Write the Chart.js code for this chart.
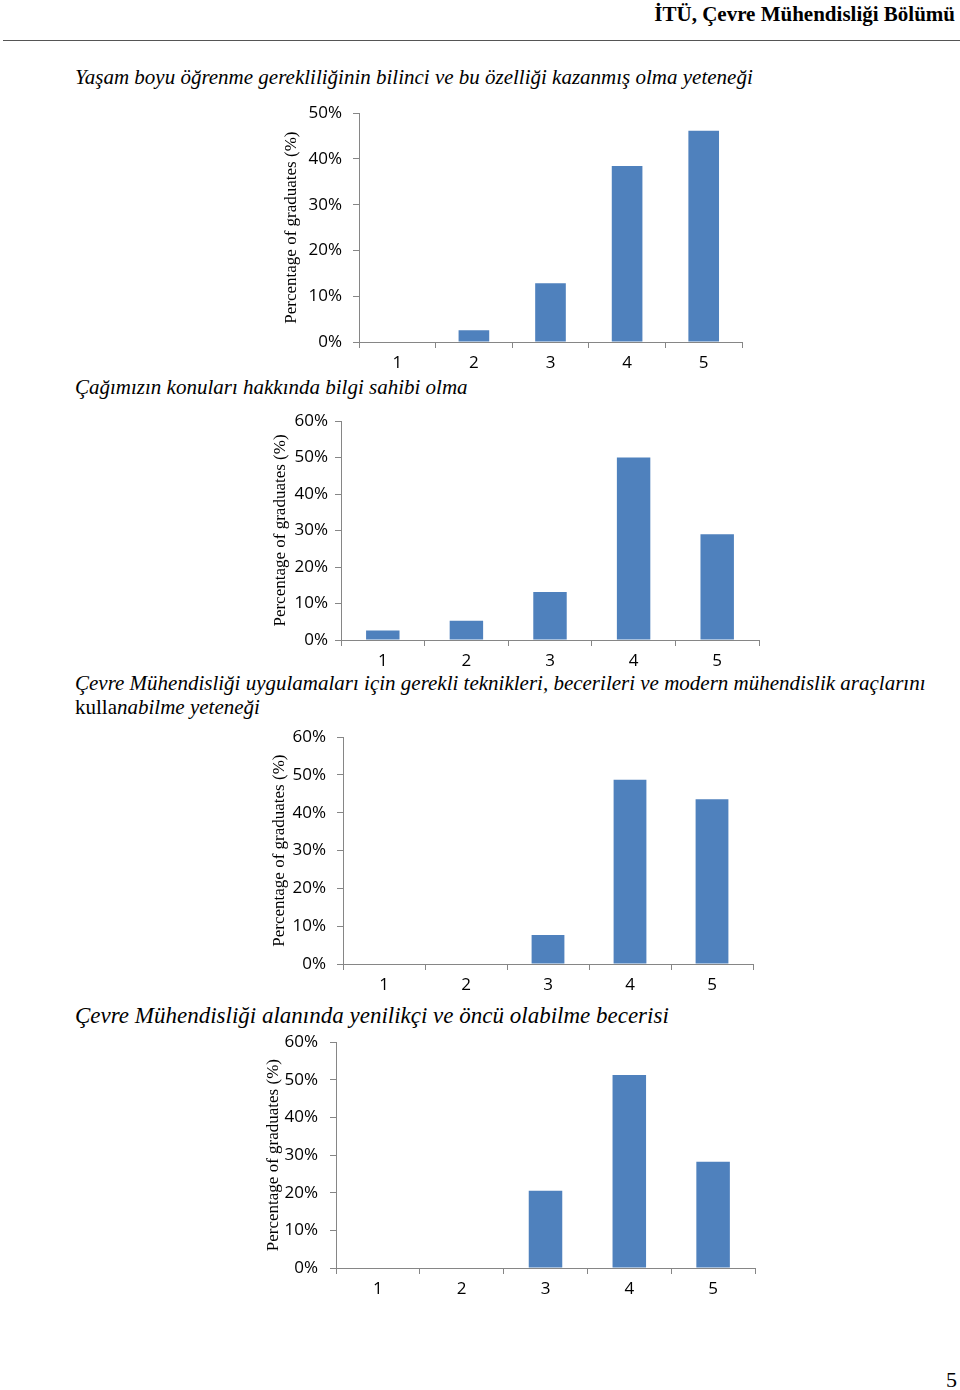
<!DOCTYPE html>
<html>
<head>
<meta charset="utf-8">
<script src="https://cdn.jsdelivr.net/npm/chart.js@4.4.1/dist/chart.umd.min.js"></script>
<style>
  html, body { margin: 0; padding: 0; background: #fff; }
  body { position: relative; width: 960px; height: 1390px; overflow: hidden; }
  .txt { position: absolute; font-family: "Liberation Serif", "Times New Roman", serif; color: #000; white-space: nowrap; line-height: 1; }
  .title { font-size: 21px; font-style: italic; }
  .up { font-style: normal; }
  #header { right: 5px; top: 4px; font-size: 21px; font-weight: bold; }
  #rule { position: absolute; left: 3px; top: 40px; width: 957px; height: 1px; background: #555; }
  #pageno { right: 3px; top: 1369px; font-size: 22px; }
  canvas { position: absolute; }
</style>
</head>
<body>
<div class="txt" id="header">İTÜ, Çevre Mühendisliği Bölümü</div>
<div id="rule"></div>

<div class="txt title" style="left:75px; top:67px;">Yaşam boyu öğrenme gerekliliğinin bilinci ve bu özelliği kazanmış olma yeteneği</div>
<div class="txt title" style="left:75px; top:377px;">Çağımızın konuları hakkında bilgi sahibi olma</div>
<div class="txt title" style="left:75px; top:673px;">Çevre Mühendisliği uygulamaları için gerekli teknikleri, becerileri ve modern mühendislik araçlarını</div>
<div class="txt title" style="left:75px; top:697px;"><span class="up">kulla</span>nabilme yeteneği</div>
<div class="txt title" style="left:75px; top:1004px; font-size:23px;">Çevre Mühendisliği alanında yenilikçi ve öncü olabilme becerisi</div>

<canvas id="chart1"></canvas>
<canvas id="chart2"></canvas>
<canvas id="chart3"></canvas>
<canvas id="chart4"></canvas>

<div class="txt" id="pageno">5</div>

<script>
// answers on the 1-5 scale
const categories = ['1', '2', '3', '4', '5'];

// percentage of graduates per answer
const lifelongLearning = [0, 2.56, 12.82, 38.46, 46.15];
const currentIssues = [2.63, 5.26, 13.16, 50.0, 28.95];
const engineeringTools = [0, 0, 7.69, 48.72, 43.59];
const innovation = [0, 0, 20.51, 51.28, 28.21];

const yMax = [50, 60, 60, 60];
const yStep = 10;

const axisTitle = 'Percentage of graduates (%)';
const barColor = '#4F81BD';
const axisColor = '#868686';

// where each plot sits on the page
const boxes = [
    { id: 'chart1', data: lifelongLearning, max: yMax[0], axisX: 359, right: 742, top: 112, bottom: 342, titleX: 291, tickPad: 11 },
    { id: 'chart2', data: currentIssues, max: yMax[1], axisX: 341, right: 759, top: 421, bottom: 640, titleX: 280, tickPad: 7 },
    { id: 'chart3', data: engineeringTools, max: yMax[2], axisX: 343, right: 753, top: 736, bottom: 964, titleX: 279, tickPad: 11 },
    { id: 'chart4', data: innovation, max: yMax[3], axisX: 336, right: 755, top: 1040, bottom: 1268, titleX: 273, tickPad: 12 }
];

const padTop = 20;
const padRight = 12;
const xAxisHeight = 36;
const titleSize = 17;
const tickFont = { family: 'Open Sans', size: 17 };

function makeChart(box) {
    const canvas = document.getElementById(box.id);
    const left = Math.round(box.titleX - titleSize * 0.6);
    const yWidth = box.axisX - left;
    const width = box.right - left + padRight;
    const height = padTop + (box.bottom - box.top) + xAxisHeight;

    canvas.width = width;
    canvas.height = height;
    canvas.style.left = left + 'px';
    canvas.style.top = (box.top - padTop) + 'px';

    return new Chart(canvas, {
        type: 'bar',
        data: {
            labels: categories,
            datasets: [{
                data: box.data,
                backgroundColor: barColor,
                borderWidth: 0,
                categoryPercentage: 1,
                barPercentage: 0.4
            }]
        },
        options: {
            responsive: false,
            animation: false,
            events: [],
            layout: { padding: { top: padTop, right: padRight, left: 0, bottom: 0 } },
            plugins: {
                legend: { display: false },
                tooltip: { enabled: false },
                title: { display: false }
            },
            scales: {
                x: {
                    offset: true,
                    grid: { display: true, offset: true, drawOnChartArea: false, drawTicks: true, tickLength: 6, color: axisColor },
                    border: { display: true, color: axisColor, width: 1 },
                    ticks: { color: '#000', padding: 5, font: tickFont },
                    afterFit: s => { s.height = xAxisHeight; }
                },
                y: {
                    min: 0,
                    max: box.max,
                    ticks: {
                        stepSize: yStep,
                        color: '#000',
                        padding: box.tickPad,
                        font: tickFont,
                        callback: v => v + '%'
                    },
                    grid: { display: true, drawOnChartArea: false, drawTicks: true, tickLength: 6, color: axisColor },
                    border: { display: true, color: axisColor, width: 1 },
                    title: {
                        display: true,
                        text: axisTitle,
                        color: '#000',
                        padding: 0,
                        font: { family: 'Liberation Serif', size: titleSize }
                    },
                    afterFit: s => { s.width = yWidth; }
                }
            }
        }
    });
}

boxes.forEach(makeChart);
</script>
</body>
</html>
